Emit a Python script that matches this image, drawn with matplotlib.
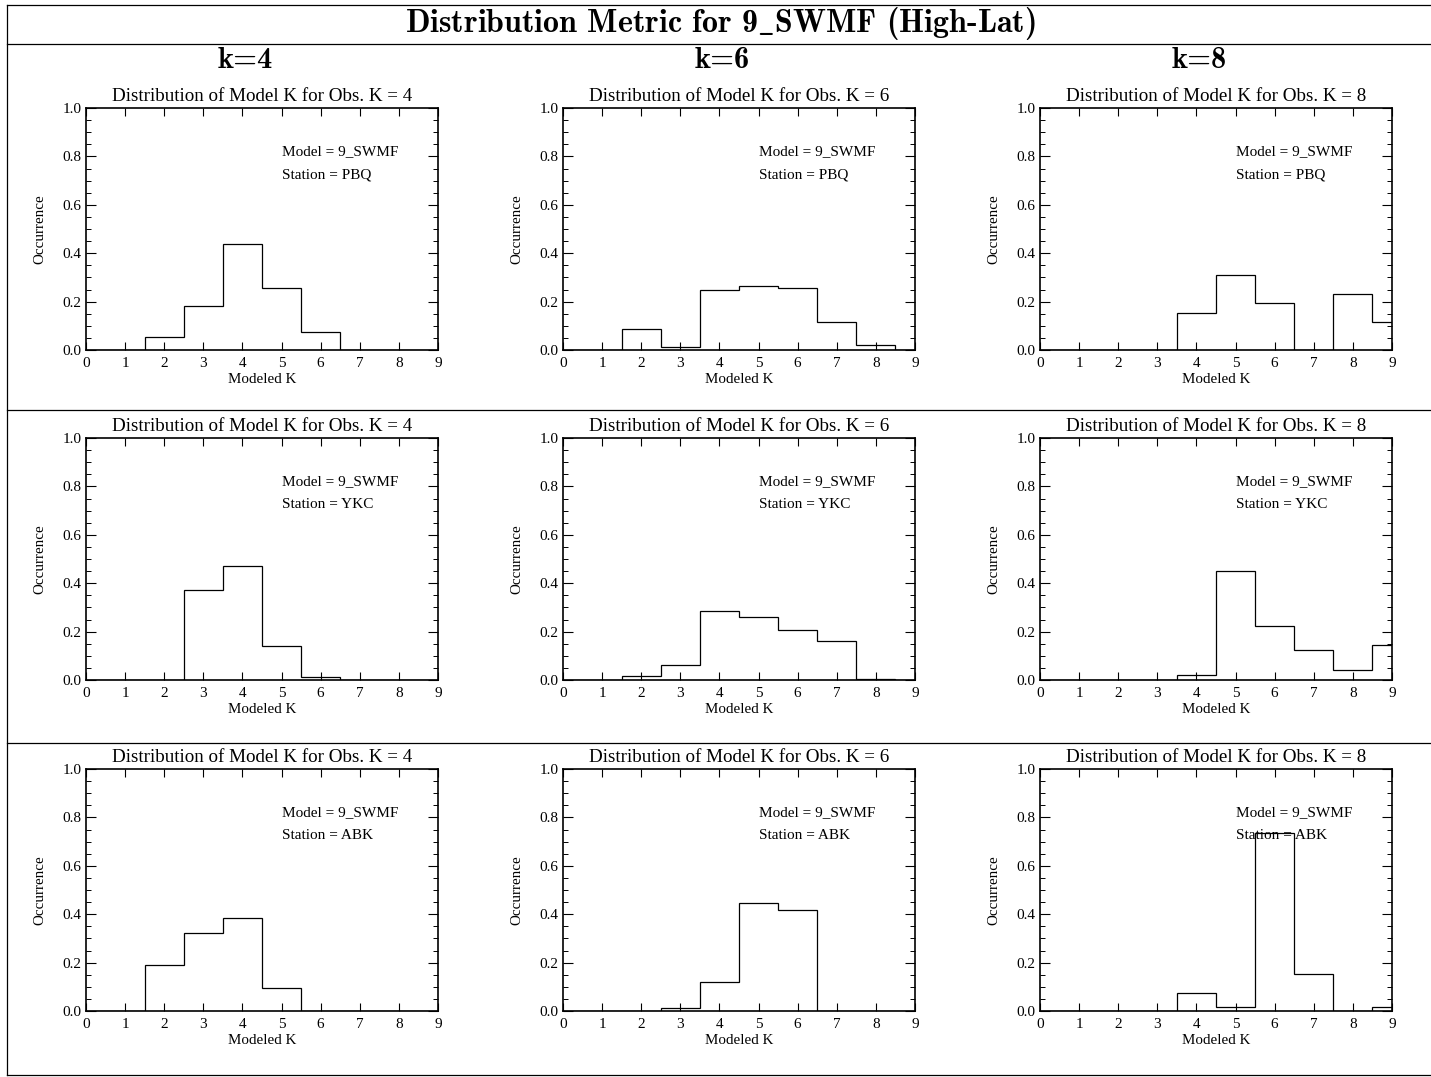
import matplotlib
matplotlib.use("Agg")
import os
import matplotlib.pyplot as plt
from matplotlib.font_manager import FontProperties
from matplotlib.lines import Line2D
from matplotlib.ticker import MultipleLocator, FormatStrFormatter

# modeled K bins 0..9, occurrence fractions
k_bins = [0, 1, 2, 3, 4, 5, 6, 7, 8, 9]
obs_k = [4, 6, 8]
stations = ["PBQ", "YKC", "ABK"]
model_name = "9_SWMF"

pbq_k4 = [0, 0, 0.055, 0.183, 0.439, 0.257, 0.073, 0, 0, 0]
pbq_k6 = [0, 0, 0.085, 0.011, 0.247, 0.266, 0.258, 0.114, 0.019, 0]
pbq_k8 = [0, 0, 0, 0, 0.154, 0.308, 0.193, 0, 0.231, 0.116]
ykc_k4 = [0, 0, 0, 0.371, 0.473, 0.141, 0.014, 0, 0, 0]
ykc_k6 = [0, 0, 0.015, 0.063, 0.284, 0.261, 0.206, 0.163, 0.004, 0]
ykc_k8 = [0, 0, 0, 0, 0.019, 0.449, 0.225, 0.123, 0.040, 0.143]
abk_k4 = [0, 0, 0.192, 0.321, 0.386, 0.095, 0, 0, 0, 0]
abk_k6 = [0, 0, 0, 0.011, 0.121, 0.445, 0.419, 0, 0, 0]
abk_k8 = [0, 0, 0, 0, 0.076, 0.018, 0.735, 0.151, 0, 0.018]

hists = [[pbq_k4, pbq_k6, pbq_k8],
         [ykc_k4, ykc_k6, ykc_k8],
         [abk_k4, abk_k6, abk_k8]]

plt.rcParams['font.family'] = ['Liberation Serif', 'DejaVu Serif']
plt.rcParams['mathtext.fontset'] = 'cm'

cmb = FontProperties(fname=os.path.join(matplotlib.get_data_path(), 'fonts', 'ttf', 'cmb10.ttf'))

W, H = 1431, 1077
fig = plt.figure(figsize=(W / 100, H / 100), dpi=100)

# frame lines (pixel coords -> figure fraction)
def hline(y, x0=7, x1=1431):
    fig.add_artist(Line2D([x0 / W, x1 / W], [1 - y / H, 1 - y / H], color='black', lw=0.9))

for y in [5, 44, 410, 743, 1075]:
    hline(y)
fig.add_artist(Line2D([7 / W, 7 / W], [1 - 5 / H, 1 - 1075 / H], color='black', lw=0.9))

cmb_title = cmb.copy()
cmb_title.set_size(23)
fig.text(720 / W, 1 - 23 / H, "Distribution Metric for 9$\\_$SWMF (High-Lat)",
         fontproperties=cmb_title, ha='center', va='center')
cmb_k = cmb.copy()
cmb_k.set_size(22)
for x, k in zip([245, 722, 1199], obs_k):
    fig.text(x / W, 1 - 61 / H, "k=%d" % k, fontproperties=cmb_k, ha='center', va='center')

col_left = [86, 563, 1040]
row_top = [108, 438, 769]
aw, ah = 352, 242
edges = [b - 0.5 for b in k_bins] + [k_bins[-1] + 0.5]

for r in range(3):
    for c in range(3):
        ax = fig.add_axes([col_left[c] / W, 1 - (row_top[r] + ah) / H, aw / W, ah / H])
        ax.stairs(hists[r][c], edges, color='black', lw=0.9)
        ax.set_xlim(0, 9)
        ax.set_ylim(0, 1.0)
        ax.set_xticks(k_bins)
        ax.yaxis.set_major_locator(MultipleLocator(0.2))
        ax.yaxis.set_minor_locator(MultipleLocator(0.05))
        ax.yaxis.set_major_formatter(FormatStrFormatter('%.1f'))
        ax.tick_params(axis='x', which='major', direction='in', top=True, length=5.5, width=0.8,
                       labelsize=11, pad=5)
        ax.tick_params(axis='y', which='major', direction='in', right=True, length=7, width=0.8,
                       labelsize=11, pad=3)
        ax.tick_params(axis='y', which='minor', direction='in', right=True, length=3.5, width=0.7)
        for s in ax.spines.values():
            s.set_linewidth(1.2)
        ax.set_title("Distribution of Model K for Obs. K = %d" % obs_k[c], fontsize=13.7, pad=5)
        ax.set_xlabel("Modeled K", fontsize=10.8)
        ax.set_ylabel("Occurrence", fontsize=10.8)
        ax.xaxis.set_label_coords(0.5, -0.095)
        ax.yaxis.set_label_coords(-0.112, 0.5)
        ax.text(5.0, 0.82, "Model = " + model_name, fontsize=11, va='center', ha='left')
        ax.text(5.0, 0.725, "Station = " + stations[r], fontsize=11, va='center', ha='left')

fig.savefig("out.png", dpi=100)
